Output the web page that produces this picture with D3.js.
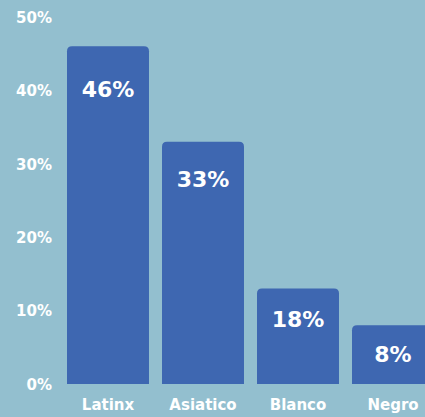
<!DOCTYPE html>
<html lang="es">
<head>
<meta charset="utf-8">
<title>Grupos</title>
<script src="https://cdn.jsdelivr.net/npm/d3@7"></script>
<style>
  body { margin: 0; background: #93bfcf; }
  svg { display: block; }
  text { font-family: "DejaVu Sans", sans-serif; fill: #fff; font-weight: bold; }
</style>
</head>
<body>
<svg width="425" height="417"></svg>
<script>
var categorias = ["Latinx", "Asiatico", "Blanco", "Negro"];
var valores = [46, 33, 13, 8];          // hauteur
var etiquettes = ["46%", "33%", "18%", "8%"];
var graduations = [0, 10, 20, 30, 40, 50];

var svg = d3.select("svg");

var x = d3.scaleBand()
    .domain(categorias)
    .range([60.5, 440.5])
    .paddingInner(0.137)
    .paddingOuter(0.0685);

var y = d3.scaleLinear()
    .domain([0, 50])
    .range([384, 17]);

// barres avec coins arrondis en haut
function barre(i) {
  var x0 = x(categorias[i]), w = x.bandwidth();
  var y0 = y(valores[i]), y1 = y(0), r = 5;
  return "M" + x0 + "," + y1 +
    "V" + (y0 + r) + "Q" + x0 + "," + y0 + " " + (x0 + r) + "," + y0 +
    "H" + (x0 + w - r) + "Q" + (x0 + w) + "," + y0 + " " + (x0 + w) + "," + (y0 + r) +
    "V" + y1 + "Z";
}

svg.selectAll("path.barre")
  .data(valores)
  .enter()
  .append("path")
    .classed("barre", true)
    .attr("d", function (d, i) { return barre(i); })
    .attr("fill", "#3e67b1");

// valeurs dans les barres
svg.selectAll("text.valeur")
  .data(valores)
  .enter()
  .append("text")
    .classed("valeur", true)
    .attr("text-anchor", "middle")
    .attr("dominant-baseline", "central")
    .style("font-size", "22px")
    .attr("x", function (d, i) { return x(categorias[i]) + x.bandwidth() / 2; })
    .attr("y", function (d, i) { return y(d) + 26 + (y(0) - y(d)) * 0.05; })
    .text(function (d, i) { return etiquettes[i]; });

// axe des ordonnées
var axeY = d3.axisLeft(y)
    .tickValues(graduations)
    .tickSize(0)
    .tickPadding(0)
    .tickFormat(function (d) { return d + "%"; });

var gY = svg.append("g")
    .attr("transform", "translate(52,0)")
    .call(axeY);
gY.select(".domain").remove();
gY.selectAll("text")
    .style("font-size", "15px")
    .attr("dy", "0.35em");

// axe des abscisses
var axeX = d3.axisBottom(x).tickSize(0).tickPadding(0);
var gX = svg.append("g")
    .attr("transform", "translate(0,405)")
    .call(axeX);
gX.select(".domain").remove();
gX.selectAll("text")
    .style("font-size", "15px")
    .attr("dy", "0.35em");
</script>
</body>
</html>
